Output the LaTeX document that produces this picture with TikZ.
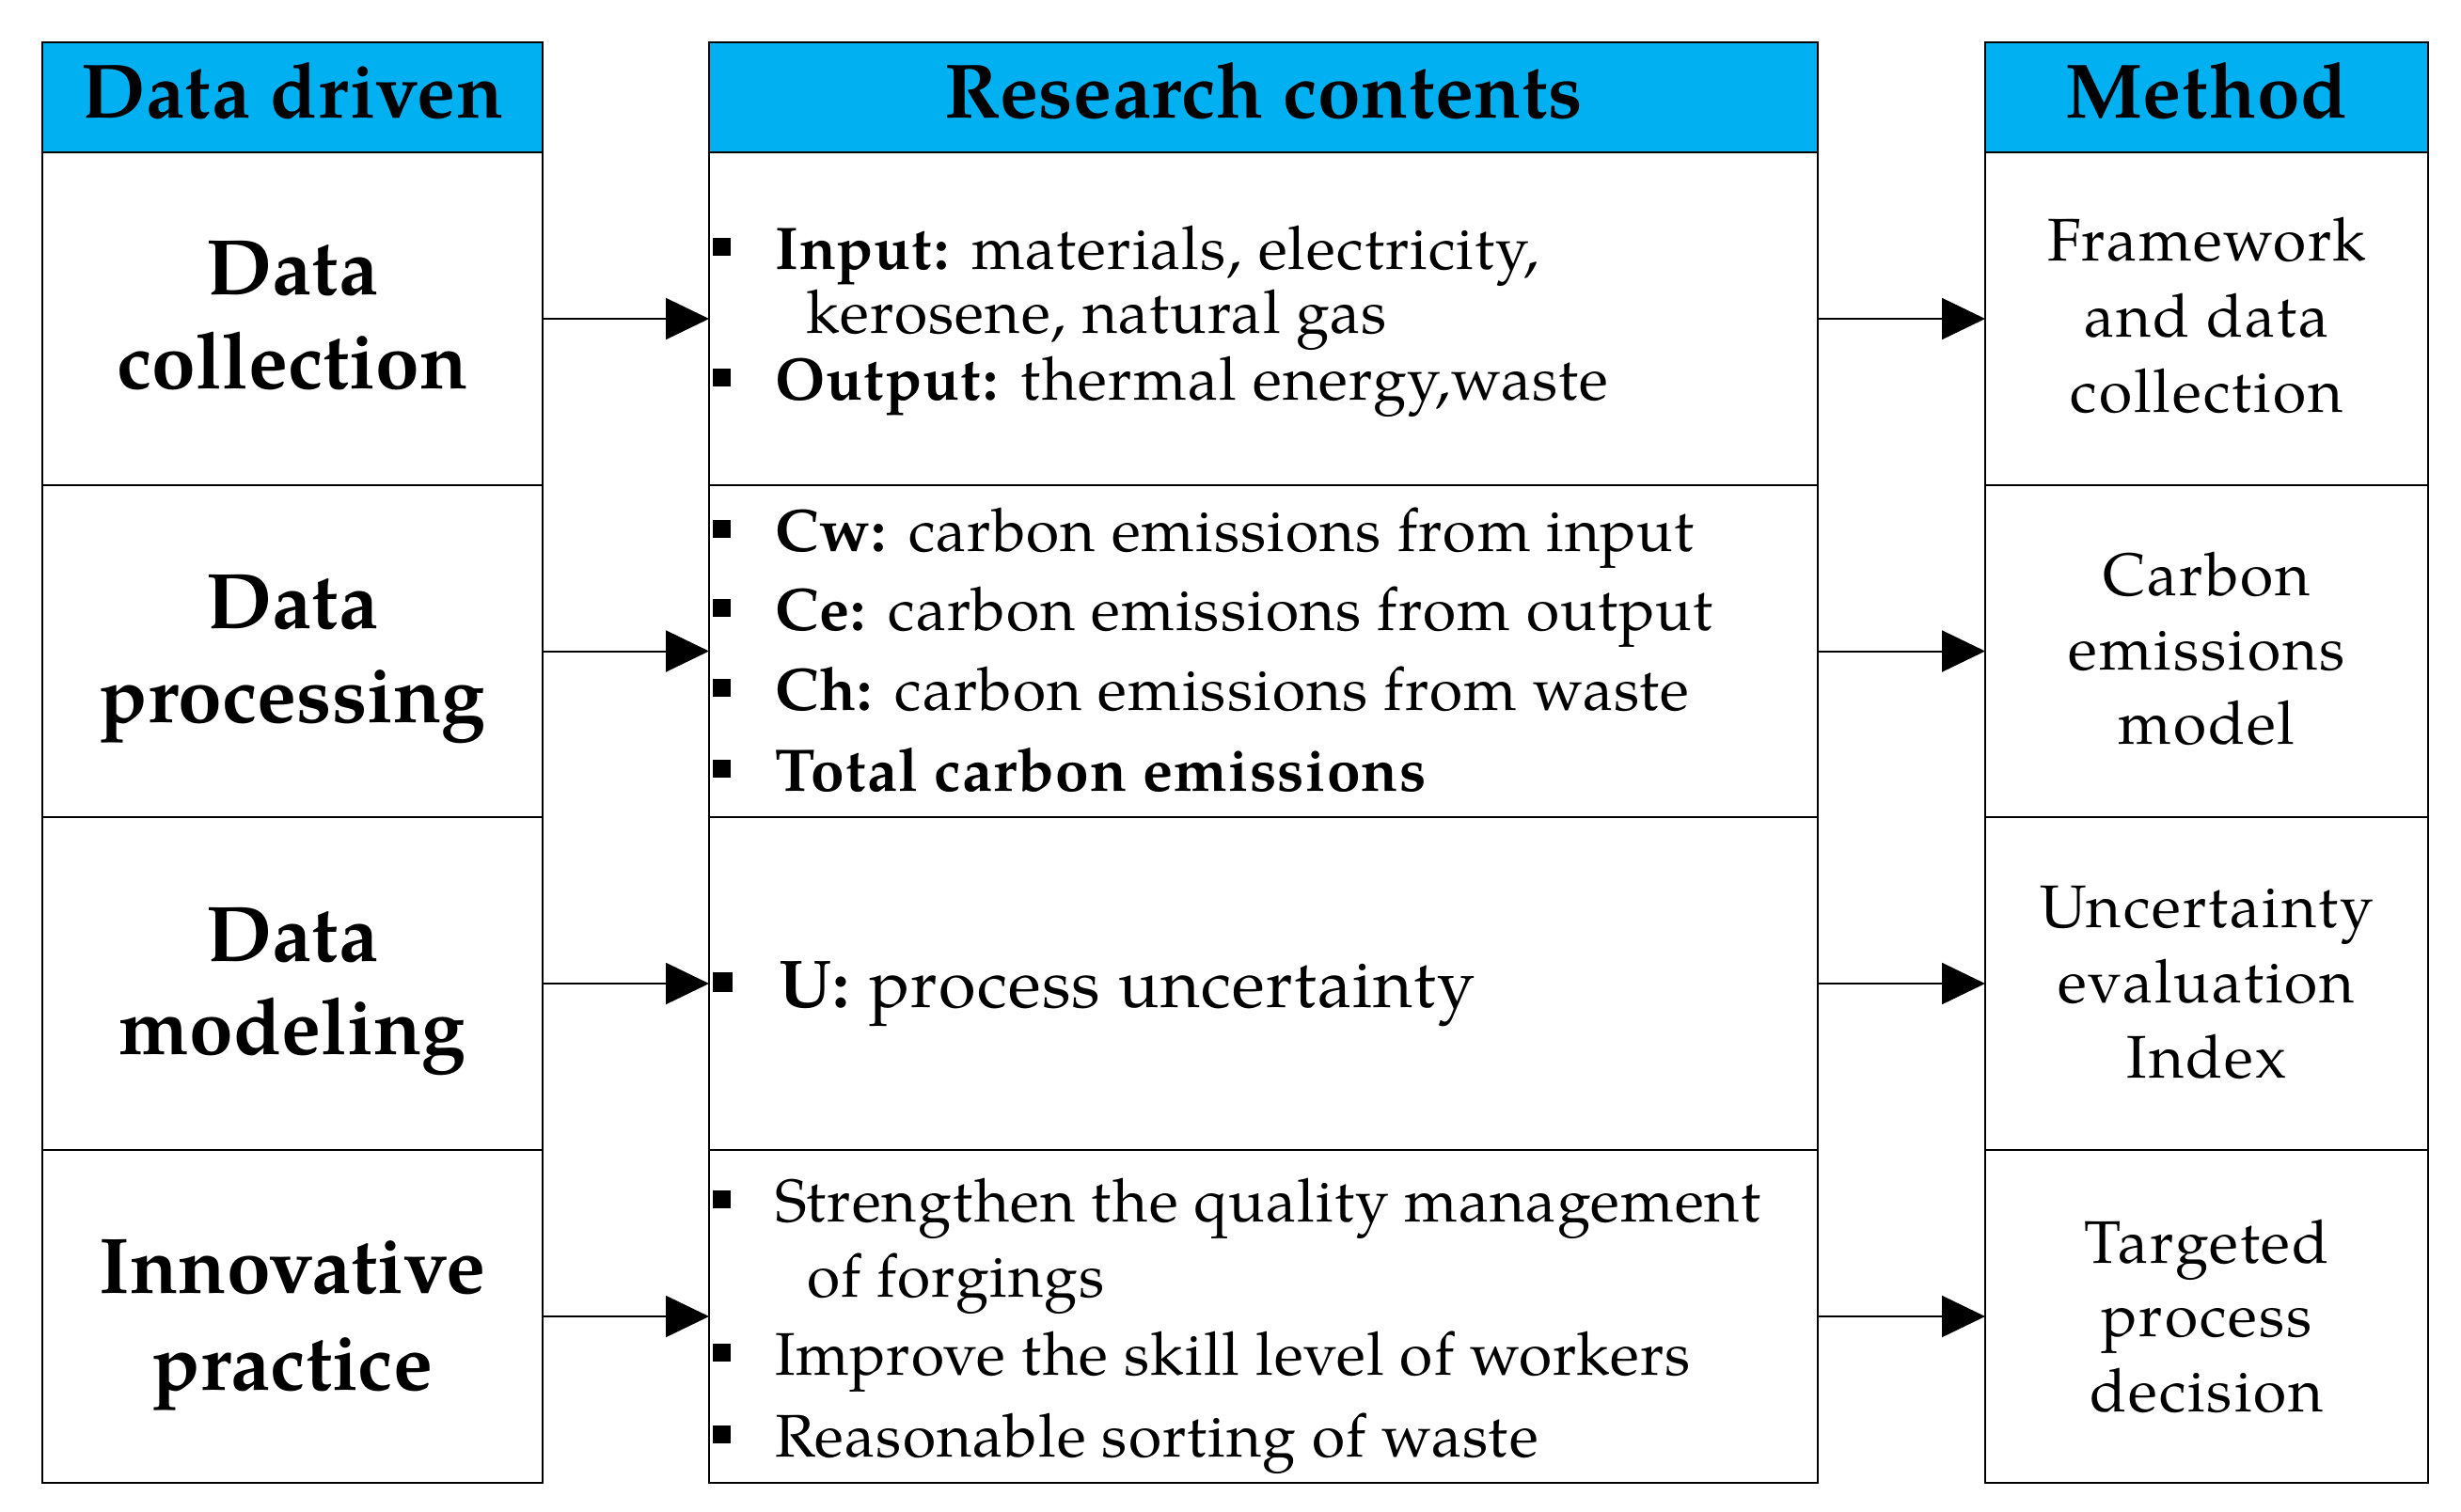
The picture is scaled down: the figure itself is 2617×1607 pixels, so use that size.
\documentclass[tikz,border=0pt]{standalone}
\usepackage{fontspec}
\setmainfont{texgyrepagella}[Extension=.otf, UprightFont=*-regular, BoldFont=*-bold, ItalicFont=*-italic, BoldItalicFont=*-bolditalic]
\newfontfamily\midfont{texgyrepagella}[Extension=.otf, UprightFont=*-regular, BoldFont=*-bold, LetterSpace=1.8]
\newfontfamily\rightfont{texgyrepagella}[Extension=.otf, UprightFont=*-regular, BoldFont=*-bold, LetterSpace=3.2]
\newfontfamily\headfont{texgyrepagella}[Extension=.otf, UprightFont=*-regular, BoldFont=*-bold, LetterSpace=0.6]
\usetikzlibrary{arrows.meta}
\definecolor{headcyan}{RGB}{0,176,240}
\newcommand{\bx}{\rule[14pt]{19pt}{19pt}}
\newcommand{\bxu}{\rule[16pt]{21pt}{21pt}}
\begin{document}
\begin{tikzpicture}[x=1pt,y=-1pt,
  cell/.style={draw, line width=2.2pt, rectangle, inner sep=0pt, outer sep=0pt, fill=white},
  head/.style={cell, fill=headcyan},
  colL/.style={minimum width=532},
  colM/.style={minimum width=1179},
  colR/.style={minimum width=471},
  hrow/.style={minimum height=117},
  brow/.style={minimum height=353.75},
  conn/.style={line width=2pt, -{Triangle[length=46pt,width=44pt]}},
  htxt/.style={anchor=base, inner sep=0pt, font=\headfont\fontsize{82}{98}\selectfont\bfseries},
  ltxt/.style={anchor=base, inner sep=0pt, font=\fontsize{84}{100}\selectfont\bfseries},
  rtxt/.style={anchor=base, inner sep=0pt, font=\rightfont\fontsize{64}{80}\selectfont},
  mtxt/.style={anchor=base west, inner sep=0pt, font=\midfont\fontsize{64}{80}\selectfont},
  utxt/.style={anchor=base west, inner sep=0pt, font=\midfont\fontsize{72}{86}\selectfont}
]
\useasboundingbox (0,0) rectangle (2617,1607);
% headers
\node[head,colL,hrow] (lh) at (311,103.5) {};
\node[head,colM,hrow] (mh) at (1343.5,103.5) {};
\node[head,colR,hrow] (rh) at (2346.5,103.5) {};
\node[htxt] (lht) at (311,125) {Data driven};
\node[htxt] (mht) at (1343.5,125) {Research contents};
\node[htxt] (rht) at (2346.5,125) {Method};
% cells
\node[cell,colL,brow] (l1) at (311,339) {};
\node[cell,colL,brow] (l2) at (311,692.5) {};
\node[cell,colL,brow] (l3) at (311,1046) {};
\node[cell,colL,brow] (l4) at (311,1400) {};
\node[cell,colM,brow] (m1) at (1343.5,339) {};
\node[cell,colM,brow] (m2) at (1343.5,692.5) {};
\node[cell,colM,brow] (m3) at (1343.5,1046) {};
\node[cell,colM,brow] (m4) at (1343.5,1400) {};
\node[cell,colR,brow] (r1) at (2346.5,339) {};
\node[cell,colR,brow] (r2) at (2346.5,692.5) {};
\node[cell,colR,brow] (r3) at (2346.5,1046) {};
\node[cell,colR,brow] (r4) at (2346.5,1400) {};
% left texts
\node[ltxt] (l1a) at (311,313) {Data};
\node[ltxt] (l1b) at (311,413) {collection};
\node[ltxt] (l2a) at (311,668) {Data};
\node[ltxt] (l2b) at (311,768) {processing};
\node[ltxt] (l3a) at (311,1022) {Data};
\node[ltxt] (l3b) at (311,1121) {modeling};
\node[ltxt] (l4a) at (311,1375) {Innovative};
\node[ltxt] (l4b) at (311,1478) {practice};
% middle texts
\node[mtxt] (m1a) at (758,286) {\bx\hspace{47pt}\textbf{Input:} materials, electricity,};
\node[mtxt] (m1b) at (857,354) {kerosene, natural gas};
\node[mtxt] (m1c) at (758,425) {\bx\hspace{47pt}\textbf{Output:} thermal energy,waste};
\node[mtxt] (m2a) at (758,586) {\bx\hspace{47pt}\textbf{Cw:} carbon emissions from input};
\node[mtxt] (m2b) at (758,670) {\bx\hspace{47pt}\textbf{Ce:} carbon emissions from output};
\node[mtxt] (m2c) at (758,755) {\bx\hspace{47pt}\textbf{Ch:} carbon emissions from waste};
\node[mtxt] (m2d) at (758,841) {\bx\hspace{47pt}\textbf{Total carbon emissions}};
\node[utxt] (m3a) at (758,1071) {\bxu\hspace{49pt}\textbf{U:} process uncertainty};
\node[mtxt] (m4a) at (758,1299) {\bx\hspace{47pt}Strengthen the quality management};
\node[mtxt] (m4b) at (858,1379) {of forgings};
\node[mtxt] (m4c) at (758,1462) {\bx\hspace{47pt}Improve the skill level of workers};
\node[mtxt] (m4d) at (758,1549) {\bx\hspace{47pt}Reasonable sorting of waste};
% right texts
\node[rtxt] (r1a) at (2346.5,277) {Framework};
\node[rtxt] (r1b) at (2346.5,358) {and data};
\node[rtxt] (r1c) at (2346.5,438) {collection};
\node[rtxt] (r2a) at (2346.5,633) {Carbon};
\node[rtxt] (r2b) at (2346.5,712) {emissions};
\node[rtxt] (r2c) at (2346.5,791) {model};
\node[rtxt] (r3a) at (2346.5,986) {Uncertainty};
\node[rtxt] (r3b) at (2346.5,1066) {evaluation};
\node[rtxt] (r3c) at (2346.5,1146) {Index};
\node[rtxt] (r4a) at (2346.5,1343) {Targeted};
\node[rtxt] (r4b) at (2346.5,1421) {process};
\node[rtxt] (r4c) at (2346.5,1501) {decision};
% connectors
\draw[conn] (l1.east) -- (m1.west);
\draw[conn] (l2.east) -- (m2.west);
\draw[conn] (l3.east) -- (m3.west);
\draw[conn] (l4.east) -- (m4.west);
\draw[conn] (m1.east) -- (r1.west);
\draw[conn] (m2.east) -- (r2.west);
\draw[conn] (m3.east) -- (r3.west);
\draw[conn] (m4.east) -- (r4.west);
\end{tikzpicture}
\end{document}
